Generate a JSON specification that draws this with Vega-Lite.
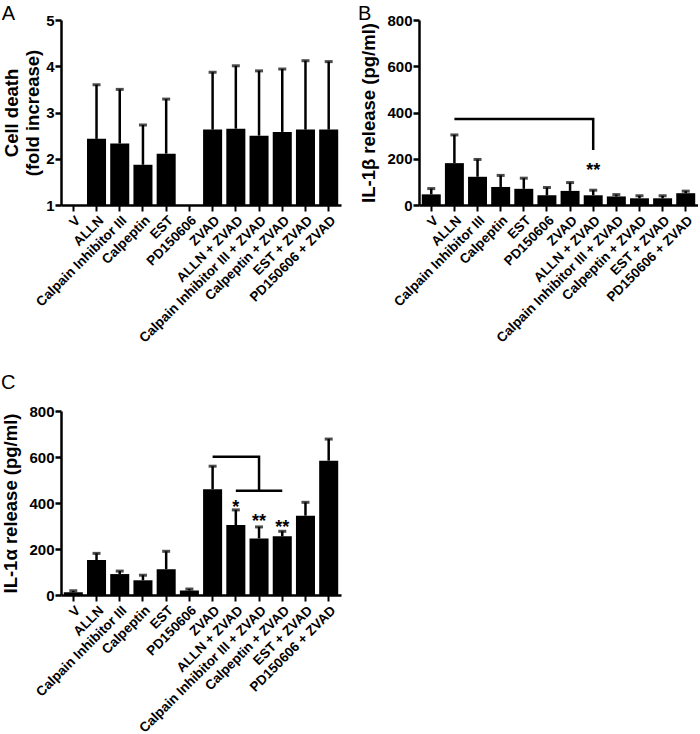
{
  "$schema": "https://vega.github.io/schema/vega-lite/v6.json",
  "padding": {"left": 0, "top": 4, "right": 0, "bottom": 0},
  "background": "white",
  "config": {
    "font": "Liberation Sans",
    "view": {"stroke": null},
    "axis": {
      "labelFont": "Liberation Sans", "labelFontWeight": "bold", "labelColor": "black", "labelFontSize": 15,
      "titleFont": "Liberation Sans", "titleFontWeight": "bold", "titleColor": "black", "titleFontSize": 18.5,
      "domainColor": "black", "domainWidth": 2.5, "tickColor": "black", "tickWidth": 2.5, "tickSize": 6,
      "grid": false, "labelPadding": 1, "titlePadding": 8, "labelLimit": 400
    },
    "axisX": {"labelAngle": -45, "labelFontSize": 13.5, "title": null, "tickWidth": 2, "labelPadding": 2, "labelLimit": 400},
    "title": {"fontSize": 20, "fontWeight": "normal", "font": "Liberation Sans", "anchor": "start", "frame": "bounds", "color": "black", "offset": -11}
  },
  "datasets": {
    "A": [
      {"treatment": "V", "mean": 1, "upper": null},
      {"treatment": "ALLN", "mean": 2.43, "upper": 3.6},
      {"treatment": "Calpain Inhibitor III", "mean": 2.33, "upper": 3.5},
      {"treatment": "Calpeptin", "mean": 1.87, "upper": 2.73},
      {"treatment": "EST", "mean": 2.11, "upper": 3.29},
      {"treatment": "PD150606", "mean": 1, "upper": null},
      {"treatment": "ZVAD", "mean": 2.63, "upper": 3.87},
      {"treatment": "ALLN + ZVAD", "mean": 2.65, "upper": 4.01},
      {"treatment": "Calpain Inhibitor III + ZVAD", "mean": 2.5, "upper": 3.9},
      {"treatment": "Calpeptin + ZVAD", "mean": 2.58, "upper": 3.94},
      {"treatment": "EST + ZVAD", "mean": 2.63, "upper": 4.12},
      {"treatment": "PD150606 + ZVAD", "mean": 2.63, "upper": 4.1}
    ],
    "B": [
      {"treatment": "V", "mean": 46, "upper": 71},
      {"treatment": "ALLN", "mean": 181, "upper": 303},
      {"treatment": "Calpain Inhibitor III", "mean": 122, "upper": 197},
      {"treatment": "Calpeptin", "mean": 78, "upper": 128},
      {"treatment": "EST", "mean": 70, "upper": 116},
      {"treatment": "PD150606", "mean": 42, "upper": 76},
      {"treatment": "ZVAD", "mean": 61, "upper": 97},
      {"treatment": "ALLN + ZVAD", "mean": 42, "upper": 64},
      {"treatment": "Calpain Inhibitor III + ZVAD", "mean": 37, "upper": 45},
      {"treatment": "Calpeptin + ZVAD", "mean": 29, "upper": 40},
      {"treatment": "EST + ZVAD", "mean": 29, "upper": 40},
      {"treatment": "PD150606 + ZVAD", "mean": 51, "upper": 60}
    ],
    "C": [
      {"treatment": "V", "mean": 12, "upper": 18},
      {"treatment": "ALLN", "mean": 152, "upper": 181},
      {"treatment": "Calpain Inhibitor III", "mean": 91, "upper": 104},
      {"treatment": "Calpeptin", "mean": 64, "upper": 86},
      {"treatment": "EST", "mean": 112, "upper": 190},
      {"treatment": "PD150606", "mean": 20, "upper": 26},
      {"treatment": "ZVAD", "mean": 460, "upper": 560},
      {"treatment": "ALLN + ZVAD", "mean": 304, "upper": 370},
      {"treatment": "Calpain Inhibitor III + ZVAD", "mean": 246, "upper": 296},
      {"treatment": "Calpeptin + ZVAD", "mean": 255, "upper": 277},
      {"treatment": "EST + ZVAD", "mean": 345, "upper": 403},
      {"treatment": "PD150606 + ZVAD", "mean": 584, "upper": 678}
    ]
  },
  "bounds": "flush",
  "columns": 2,
  "spacing": {"row": 206, "column": 78},
  "concat": [
    {
      "title": {"text": "A", "dx": -1},
      "width": 280,
      "height": 185,
      "data": {"name": "A"},
      "encoding": {
        "x": {"field": "treatment", "type": "nominal", "sort": null,
          "scale": {"paddingInner": 0.18, "paddingOuter": 0.12,
            "domain": ["V", "ALLN", "Calpain Inhibitor III", "Calpeptin", "EST", "PD150606", "ZVAD", "ALLN + ZVAD", "Calpain Inhibitor III + ZVAD", "Calpeptin + ZVAD", "EST + ZVAD", "PD150606 + ZVAD"]}}
      },
      "layer": [
        {
          "mark": {"type": "bar", "color": "black"},
          "encoding": {
            "y": {"field": "mean", "type": "quantitative",
              "scale": {"domain": [1, 5], "nice": false, "zero": false},
              "axis": {"title": ["Cell death", "(fold increase)"], "values": [1, 2, 3, 4, 5], "titlePadding": 3, "titleLineHeight": 21}},
            "y2": {"datum": 1}
          }
        },
        {
          "transform": [{"filter": "datum.upper != null"}],
          "mark": {"type": "rule", "color": "black", "strokeWidth": 2.5},
          "encoding": {"y": {"field": "mean", "type": "quantitative"}, "y2": {"field": "upper"}}
        },
        {
          "transform": [{"filter": "datum.upper != null"}],
          "mark": {"type": "tick", "color": "black", "thickness": 3, "size": 8},
          "encoding": {"y": {"field": "upper", "type": "quantitative"}}
        }
      ]
    },
    {
      "title": {"text": "B", "dx": -2},
      "width": 279,
      "height": 185,
      "data": {"name": "B"},
      "encoding": {
        "x": {"field": "treatment", "type": "nominal", "sort": null,
          "scale": {"paddingInner": 0.18, "paddingOuter": 0.12,
            "domain": ["V", "ALLN", "Calpain Inhibitor III", "Calpeptin", "EST", "PD150606", "ZVAD", "ALLN + ZVAD", "Calpain Inhibitor III + ZVAD", "Calpeptin + ZVAD", "EST + ZVAD", "PD150606 + ZVAD"]}}
      },
      "layer": [
        {
          "mark": {"type": "bar", "color": "black"},
          "encoding": {
            "y": {"field": "mean", "type": "quantitative",
              "scale": {"domain": [0, 800], "nice": false},
              "axis": {"title": "IL-1β release (pg/ml)", "values": [0, 200, 400, 600, 800]}},
            "y2": {"datum": 0}
          }
        },
        {
          "mark": {"type": "rule", "color": "black", "strokeWidth": 2.5},
          "encoding": {"y": {"field": "mean", "type": "quantitative"}, "y2": {"field": "upper"}}
        },
        {
          "mark": {"type": "tick", "color": "black", "thickness": 3, "size": 8},
          "encoding": {"y": {"field": "upper", "type": "quantitative"}}
        },
        {
          "data": {"values": [
            {"treatment": "ALLN", "v": 372, "i": 1},
            {"treatment": "ALLN + ZVAD", "v": 372, "i": 2},
            {"treatment": "ALLN + ZVAD", "v": 238, "i": 3}
          ]},
          "mark": {"type": "line", "color": "black", "strokeWidth": 2.5},
          "encoding": {"y": {"field": "v", "type": "quantitative"}, "order": {"field": "i", "type": "quantitative"}}
        },
        {
          "data": {"values": [{"treatment": "ALLN + ZVAD", "v": 172, "t": "**"}]},
          "mark": {"type": "text", "color": "black", "fontSize": 18, "fontWeight": "bold", "baseline": "middle", "dy": 6},
          "encoding": {"y": {"field": "v", "type": "quantitative"}, "text": {"field": "t"}}
        }
      ]
    },
    {
      "title": {"text": "C", "dx": -1, "offset": 11},
      "width": 280,
      "height": 184,
      "data": {"name": "C"},
      "encoding": {
        "x": {"field": "treatment", "type": "nominal", "sort": null,
          "scale": {"paddingInner": 0.18, "paddingOuter": 0.12,
            "domain": ["V", "ALLN", "Calpain Inhibitor III", "Calpeptin", "EST", "PD150606", "ZVAD", "ALLN + ZVAD", "Calpain Inhibitor III + ZVAD", "Calpeptin + ZVAD", "EST + ZVAD", "PD150606 + ZVAD"]}}
      },
      "layer": [
        {
          "mark": {"type": "bar", "color": "black"},
          "encoding": {
            "y": {"field": "mean", "type": "quantitative",
              "scale": {"domain": [0, 800], "nice": false},
              "axis": {"title": "IL-1α release (pg/ml)", "values": [0, 200, 400, 600, 800]}},
            "y2": {"datum": 0}
          }
        },
        {
          "mark": {"type": "rule", "color": "black", "strokeWidth": 2.5},
          "encoding": {"y": {"field": "mean", "type": "quantitative"}, "y2": {"field": "upper"}}
        },
        {
          "mark": {"type": "tick", "color": "black", "thickness": 3, "size": 8},
          "encoding": {"y": {"field": "upper", "type": "quantitative"}}
        },
        {
          "data": {"values": [
            {"treatment": "ZVAD", "v": 601, "i": 1, "s": "top"},
            {"treatment": "Calpain Inhibitor III + ZVAD", "v": 601, "i": 2, "s": "top"},
            {"treatment": "Calpain Inhibitor III + ZVAD", "v": 453, "i": 3, "s": "top"},
            {"treatment": "ALLN + ZVAD", "v": 453, "i": 1, "s": "bottom"},
            {"treatment": "Calpeptin + ZVAD", "v": 453, "i": 2, "s": "bottom"}
          ]},
          "mark": {"type": "line", "color": "black", "strokeWidth": 2.5},
          "encoding": {"y": {"field": "v", "type": "quantitative"}, "detail": {"field": "s"}, "order": {"field": "i", "type": "quantitative"}}
        },
        {
          "data": {"values": [
            {"treatment": "ALLN + ZVAD", "v": 404, "t": "*"},
            {"treatment": "Calpain Inhibitor III + ZVAD", "v": 345, "t": "**"},
            {"treatment": "Calpeptin + ZVAD", "v": 316, "t": "**"}
          ]},
          "mark": {"type": "text", "color": "black", "fontSize": 18, "fontWeight": "bold", "baseline": "middle", "dy": 6},
          "encoding": {"y": {"field": "v", "type": "quantitative"}, "text": {"field": "t"}}
        }
      ]
    }
  ]
}
